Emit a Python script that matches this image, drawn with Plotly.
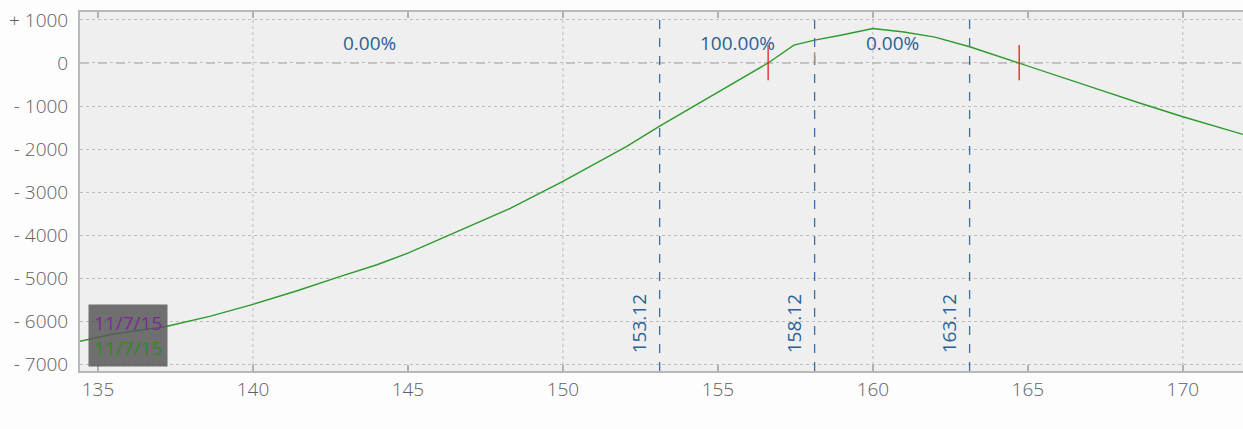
import plotly.graph_objects as go

# Curve (price vs P/L)
prices = [134.42, 135.5, 137.23, 138.6, 140.0, 141.4, 142.8, 144.0, 145.0, 146.68, 148.3,
          150.0, 152.06, 153.12, 154.42, 155.4, 156.62, 157.45, 158.12, 159.0, 160.0,
          161.0, 162.0, 163.12, 164.1, 164.72, 165.7, 167.3, 168.6, 170.0, 171.94]
pnl = [-6470, -6300, -6120, -5890, -5610, -5300, -4965, -4690, -4420, -3900, -3380,
       -2750, -1940, -1470, -925, -510, 0, 415, 530, 650, 800,
       720, 600, 377, 140, 0, -230, -620, -930, -1250, -1660]

strikes = [153.12, 158.12, 163.12]
strike_labels = ["153.12", "158.12", "163.12"]
zone_centers = [143.77, 155.62, 160.62]
zone_labels = ["0.00%", "100.00%", "0.00%"]
breakevens = [156.62, 164.72]
current_price = 158.12

x_ticks = [135, 140, 145, 150, 155, 160, 165, 170]
x_grid = [140, 150, 160, 170]
y_ticks = [1000, 0, -1000, -2000, -3000, -4000, -5000, -6000, -7000]
y_tick_text = ["+ 1000", "0", "- 1000", "- 2000", "- 3000", "- 4000", "- 5000", "- 6000", "- 7000"]
date_labels = ["11/7/15", "11/7/15"]

FONT = "Open Sans"
GRID = "#bdbdbd"

fig = go.Figure()
fig.add_trace(go.Scatter(x=prices, y=pnl, mode="lines",
                         line=dict(color="#2e9a2e", width=1.4),
                         hoverinfo="skip"))

shapes = []
for g in x_grid:
    shapes.append(dict(type="line", xref="x", yref="paper", x0=g, x1=g, y0=0, y1=1,
                       line=dict(color=GRID, width=1, dash="dot"), layer="below"))
shapes.append(dict(type="line", xref="paper", yref="y", x0=0, x1=1, y0=0, y1=0,
                   line=dict(color="#b8b8b8", width=1.5, dash="dash"), layer="below"))
for s in strikes:
    shapes.append(dict(type="line", xref="x", yref="paper", x0=s, x1=s, y0=0, y1=1,
                       line=dict(color="#3d6e9e", width=1.3, dash="dash")))
for b in breakevens:
    shapes.append(dict(type="line", xref="x", yref="y", x0=b, x1=b, y0=-400, y1=420,
                       line=dict(color="#ee1c1c", width=1.3)))
shapes.append(dict(type="line", xref="x", yref="y", x0=current_price, x1=current_price,
                   y0=0, y1=250, line=dict(color="#a88f62", width=1.5)))

annotations = []
for s, t in zip(strikes, strike_labels):
    annotations.append(dict(x=s, y=-6060, xref="x", yref="y", text=t, textangle=-90,
                            showarrow=False, xshift=-21,
                            font=dict(family=FONT, size=19, color="#2c5f96")))
for c, t in zip(zone_centers, zone_labels):
    annotations.append(dict(x=c, y=470, xref="x", yref="y", text=t, showarrow=False,
                            font=dict(family=FONT, size=19, color="#2c5f96")))
annotations.append(dict(
    x=0.0069, y=0.011, xref="paper", yref="paper", xanchor="left", yanchor="bottom",
    text=("<span style='color:#7b2a96'>%s</span><br><span style='color:#2f8a22'>%s</span>"
          % (date_labels[0], date_labels[1])),
    showarrow=False, align="left", bgcolor="rgba(88,88,88,0.85)", borderpad=5,
    font=dict(family=FONT, size=19)))

fig.update_layout(
    width=1243, height=429,
    margin=dict(l=80, r=0, t=12, b=58),
    paper_bgcolor="#fdfdfd", plot_bgcolor="#efefef",
    showlegend=False, shapes=shapes, annotations=annotations,
    xaxis=dict(range=[134.42, 171.94], tickvals=x_ticks, ticks="inside", ticklen=6,
               tickcolor="#b0b0b0", tickwidth=2, showline=True, linecolor="#b8b8b8",
               linewidth=2, mirror="ticks", showgrid=False, zeroline=False,
               tickfont=dict(family=FONT, size=19, color="#606060", weight=300)),
    yaxis=dict(range=[-7160, 1185], tickvals=y_ticks, ticktext=y_tick_text,
               showline=True, linecolor="#b8b8b8", linewidth=2, showgrid=True,
               gridcolor=GRID, griddash="dot", gridwidth=1, zeroline=False,
               ticks="", ticklabelstandoff=6,
               tickfont=dict(family=FONT, size=19, color="#606060", weight=300)),
)

fig.write_html("out.html", config={"displayModeBar": False},
               post_script="document.body.style.margin='0';document.body.style.overflow='hidden';")
